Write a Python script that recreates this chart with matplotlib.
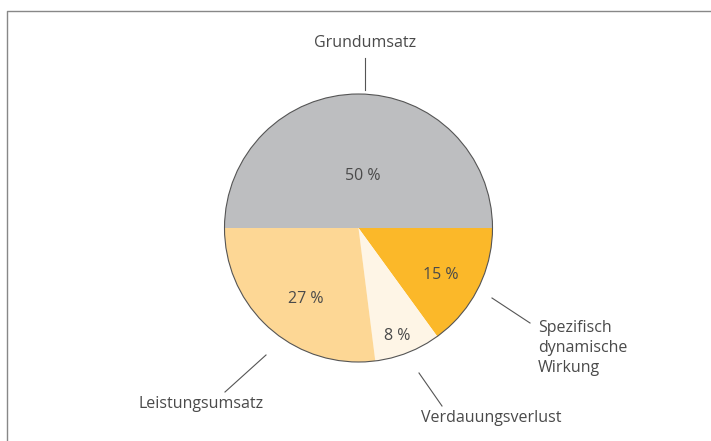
import matplotlib.pyplot as plt
from matplotlib.patches import Circle

# data
labels = ['Grundumsatz', 'Spezifisch\ndynamische\nWirkung', 'Verdauungsverlust', 'Leistungsumsatz']
values = [50, 15, 8, 27]
colors = ['#bdbec0', '#fbb829', '#fef5e6', '#fdd795']

W, H = 711, 441
plt.rcParams['font.family'] = ['Open Sans', 'DejaVu Sans']
text_col = '#4a4a4a'
fs = 11.5

fig = plt.figure(figsize=(W / 100, H / 100), dpi=100)
ax = fig.add_axes([0, 0, 1, 1])

cx, cy, r = 358.5, H - 228, 134
wedges, _ = ax.pie(values, colors=colors, startangle=180, counterclock=False,
                   center=(cx, cy), radius=r, frame=True,
                   wedgeprops=dict(linewidth=0))
ax.set_xlim(0, W)
ax.set_ylim(0, H)
ax.set_aspect('equal')
ax.axis('off')
ax.add_patch(Circle((cx, cy), r, fill=False, ec='#555555', lw=0.8))

# percentage labels
pct_pos = [(363, 176), (441, 275), (397, 336), (306, 299)]
for v, (x, y) in zip(values, pct_pos):
    ax.text(x, H - y, f'{v} %', ha='center', va='center', fontsize=fs, color=text_col)

# outer labels with leader lines
ax.plot([365, 365], [H - 58, H - 90], color='#555555', lw=0.8)
ax.text(365, H - 43, labels[0], ha='center', va='center', fontsize=fs, color=text_col)

ax.plot([492, 530], [H - 298, H - 323], color='#555555', lw=0.8)
ax.text(538, H - 348, labels[1], ha='left', va='center', fontsize=fs, color=text_col,
        linespacing=1.3)

ax.plot([419, 442], [H - 373, H - 406], color='#555555', lw=0.8)
ax.text(421, H - 418, labels[2], ha='left', va='center', fontsize=fs, color=text_col)

ax.plot([266, 225], [H - 355, H - 392], color='#555555', lw=0.8)
ax.text(201, H - 404, labels[3], ha='center', va='center', fontsize=fs, color=text_col)

# frame around the figure
ax.plot([7, 7, W], [0, H - 11, H - 11], color='#888888', lw=1.0)

fig.savefig('out.png', dpi=100)
